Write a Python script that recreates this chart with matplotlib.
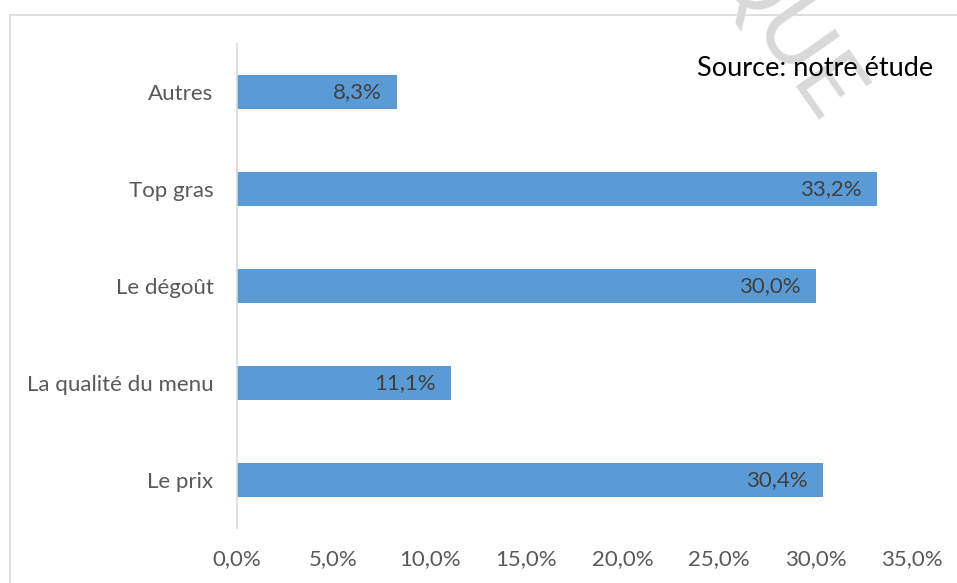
import matplotlib
matplotlib.use("Agg")
import matplotlib.pyplot as plt
from matplotlib.lines import Line2D

categories = ["Le prix", "La qualité du menu", "Le dégoût", "Top gras", "Autres"]
values = [30.4, 11.1, 30.0, 33.2, 8.3]
xticks = [0, 5, 10, 15, 20, 25, 30, 35]

plt.rcParams['font.family'] = ['Lato', 'DejaVu Sans']

W, H = 957, 583
fig = plt.figure(figsize=(W/100, H/100), dpi=100)
ax = fig.add_axes([237/W, 1-528/H, (912-237)/W, (528-44)/H])

ypos = list(range(len(categories)))
bars = ax.barh(ypos, values, height=0.35, color="#5B9BD5", zorder=2)
ax.set_xlim(0, 35)
ax.set_ylim(-0.5, len(categories)-0.5)
ax.set_yticks(ypos)
ax.set_yticklabels(categories)
ax.set_xticks(xticks)
ax.set_xticklabels([f"{t:.1f}%".replace(".", ",") for t in xticks])
ax.tick_params(axis='both', length=0, labelsize=16, colors="#595959")
ax.tick_params(axis='y', pad=17)
ax.tick_params(axis='x', pad=15)
for s in ["top", "right", "bottom"]:
    ax.spines[s].set_visible(False)
ax.spines["left"].set_color("#d9d9d9")
ax.spines["left"].set_linewidth(1.2)

for y, v in zip(ypos, values):
    ax.annotate(f"{v:.1f}%".replace(".", ","), xy=(v, y), xytext=(-11, 0),
                textcoords="offset points", ha="right", va="center",
                fontsize=16, color="#404040", zorder=3)

# border
fig.add_artist(Line2D([10/W, 10/W], [0, 1-15/H], transform=fig.transFigure, color="#d9d9d9", lw=1.2))
fig.add_artist(Line2D([10/W, 1], [1-15/H, 1-15/H], transform=fig.transFigure, color="#d9d9d9", lw=1.2))

# watermark
fig.text(784/W, 1-33/H, "QUE", rotation=-55, fontsize=66, color="#d9d9d9",
         ha="center", va="center", zorder=0)

fig.text(933/W, 1-68/H, "Source: notre étude", fontsize=19.5, color="black",
         ha="right", va="center", zorder=5)

fig.savefig("out.png", dpi=100)
